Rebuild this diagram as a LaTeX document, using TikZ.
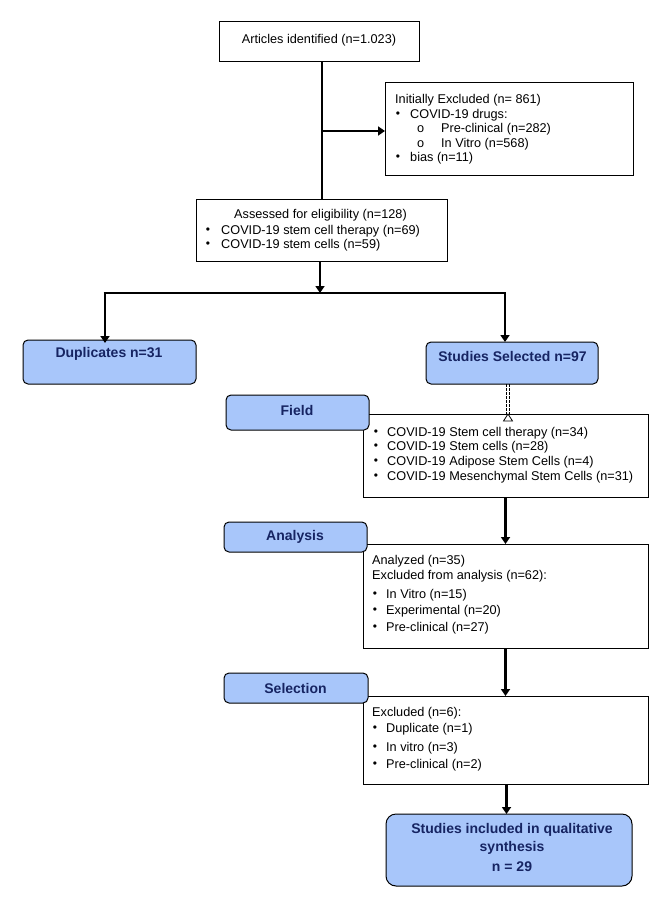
\documentclass[tikz,border=0pt]{standalone}
\usepackage{fontspec}
\setmainfont{Liberation Sans}
\usetikzlibrary{arrows.meta}
\definecolor{boxblue}{RGB}{168,198,250}
\definecolor{navy}{RGB}{22,36,98}
\begin{document}
\begin{tikzpicture}[x=1pt,y=-1pt,
  plain/.style={draw,line width=1pt,inner sep=0,outer sep=0},
  bluebox/.style={draw,line width=1pt,fill=boxblue,rounded corners=5pt,inner sep=0,outer sep=0},
  txt/.style={anchor=west,inner sep=0,font=\fontsize{12.7}{15}\selectfont},
  ctxt/.style={inner sep=0,font=\fontsize{12.7}{15}\selectfont},
  bul/.style={inner sep=0,font=\fontsize{12}{12}\selectfont},
  btxt/.style={inner sep=0,font=\fontsize{14}{16}\selectfont\bfseries,text=navy},
  thickline/.style={line width=2.6pt},
  conn/.style={line width=2.6pt,-{Triangle[length=7pt,width=9pt]}},
  dashl/.style={line width=0.8pt,dash pattern=on 2.5pt off 1.5pt}]
\useasboundingbox (0,0) rectangle (649,912);

% --- plain boxes
\node[plain,minimum width=200pt,minimum height=40pt] (ident) at (319,42) {};
\node[plain,minimum width=248pt,minimum height=93pt] (excl) at (509,129.5) {};
\node[plain,minimum width=251pt,minimum height=62pt] (assess) at (321.5,230) {};
\node[plain,minimum width=285pt,minimum height=83pt] (fieldc) at (505.5,455.5) {};
\node[plain,minimum width=285pt,minimum height=104pt] (anac) at (505.5,596) {};
\node[plain,minimum width=285pt,minimum height=88pt] (selc) at (505.5,740) {};

% --- blue boxes
\node[bluebox,minimum width=173pt,minimum height=44pt] (dupl) at (109.5,362) {};
\node[bluebox,minimum width=172pt,minimum height=42pt] (stsel) at (512,363) {};
\node[bluebox,minimum width=143pt,minimum height=35pt] (field) at (297.5,412.5) {};
\node[bluebox,minimum width=143pt,minimum height=30pt] (ana) at (295.5,537) {};
\node[bluebox,minimum width=144pt,minimum height=30pt] (sel) at (296,688) {};
\node[bluebox,rounded corners=10pt,minimum width=246pt,minimum height=72pt] (final) at (509,850) {};

% --- texts
\node[ctxt] (t1) at (319,40) {Articles identified (n=1.023)};

\node[txt] (e1) at (395,100) {Initially Excluded (n= 861)};
\node[bul] (eb1) at (398,115) {•};
\node[txt] (e2) at (410,115) {COVID-19 drugs:};
\node[txt] (eo1) at (417,129) {o};
\node[txt] (e3) at (441,129) {Pre-clinical (n=282)};
\node[txt] (eo2) at (417,144) {o};
\node[txt] (e4) at (441,144) {In Vitro (n=568)};
\node[bul] (eb2) at (398,158) {•};
\node[txt] (e5) at (410,158) {bias (n=11)};

\node[ctxt] (a1) at (320.5,215) {Assessed for eligibility (n=128)};
\node[bul] (ab1) at (208,231) {•};
\node[txt] (a2) at (221,231) {COVID-19 stem cell therapy (n=69)};
\node[bul] (ab2) at (208,245) {•};
\node[txt] (a3) at (221,245) {COVID-19 stem cells (n=59)};

\node[btxt] (dt) at (109,354) {Duplicates n=31};
\node[btxt] (st) at (512.5,356) {Studies Selected n=97};
\node[btxt] (ft) at (297,410) {Field};
\node[btxt] (at) at (295,537) {Analysis};
\node[btxt] (selt) at (295.5,688) {Selection};

\node[bul] (fb1) at (376,433) {•};
\node[txt] (f1) at (387,433) {COVID-19 Stem cell therapy (n=34)};
\node[bul] (fb2) at (376,447) {•};
\node[txt] (f2) at (387,447) {COVID-19 Stem cells (n=28)};
\node[bul] (fb3) at (376,462) {•};
\node[txt] (f3) at (387,462) {COVID-19 Adipose Stem Cells (n=4)};
\node[bul] (fb4) at (376,477) {•};
\node[txt] (f4) at (387,477) {COVID-19 Mesenchymal Stem Cells (n=31)};

\node[txt] (n1) at (372,561) {Analyzed (n=35)};
\node[txt] (n2) at (372,576) {Excluded from analysis (n=62):};
\node[bul] (nb1) at (375,595) {•};
\node[txt] (n3) at (386,595) {In Vitro (n=15)};
\node[bul] (nb2) at (375,611) {•};
\node[txt] (n4) at (386,611) {Experimental (n=20)};
\node[bul] (nb3) at (375,628) {•};
\node[txt] (n5) at (386,628) {Pre-clinical (n=27)};

\node[txt] (s1) at (372,713) {Excluded (n=6):};
\node[bul] (sb1) at (375,729) {•};
\node[txt] (s2) at (386,729) {Duplicate (n=1)};
\node[bul] (sb2) at (375,748) {•};
\node[txt] (s3) at (386,748) {In vitro (n=3)};
\node[bul] (sb3) at (375,765) {•};
\node[txt] (s4) at (386,765) {Pre-clinical (n=2)};

\node[btxt] (q1) at (512,830) {Studies included in qualitative};
\node[btxt] (q2) at (512,848) {synthesis};
\node[btxt] (q3) at (512,867) {n = 29};

% --- connectors
\coordinate (j1) at (322,131);
\draw[thickline] (ident.south -| j1) -- (assess.north -| j1);
\draw[conn] (j1) -- (excl.west |- j1);

\coordinate (j2) at (320,293);
\coordinate (jl) at (105,293);
\coordinate (jr) at (505,293);
\draw[line width=2pt,-{Triangle[length=7pt,width=9pt]}] (assess.south -| j2) -- (j2);
\draw[thickline] ([xshift=-1.3pt]jl) -- ([xshift=1.3pt]jr);
\draw[conn] (jl) -- ([yshift=-3pt]dupl.north -| jl);
\draw[conn] (jr) -- (stsel.north -| jr);

\coordinate (dd) at (508,0);
\draw[dashl] ([xshift=-1.6pt]stsel.south -| dd) -- ([xshift=-1.6pt,yshift=-7pt]fieldc.north -| dd);
\draw[dashl] ([xshift=1.6pt]stsel.south -| dd) -- ([xshift=1.6pt,yshift=-7pt]fieldc.north -| dd);
\draw[line width=0.8pt,fill=white] ([xshift=-4.5pt,yshift=-7pt]fieldc.north -| dd) -- ([xshift=4.5pt,yshift=-7pt]fieldc.north -| dd) -- (fieldc.north -| dd) -- cycle;

\coordinate (k) at (505.5,0);
\draw[conn] (fieldc.south -| k) -- (anac.north -| k);
\draw[conn] (anac.south -| k) -- (selc.north -| k);
\coordinate (k2) at (506.5,0);
\draw[conn] (selc.south -| k2) -- (final.north -| k2);
\end{tikzpicture}
\end{document}
